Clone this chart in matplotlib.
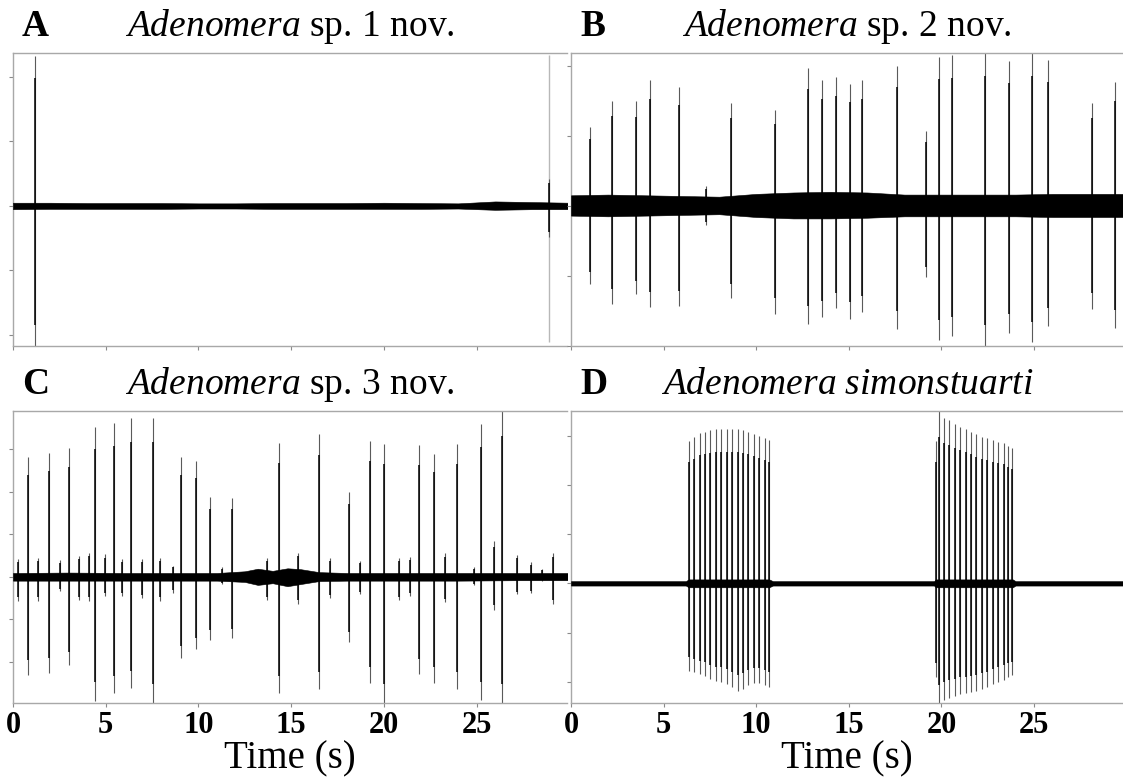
import numpy as np
import matplotlib
matplotlib.use("Agg")
import matplotlib.pyplot as plt

plt.rcParams['font.family'] = ['Liberation Serif', 'DejaVu Serif']
plt.rcParams['mathtext.fontset'] = 'custom'
plt.rcParams['mathtext.rm'] = 'Liberation Serif'
plt.rcParams['mathtext.it'] = 'Liberation Serif:italic'

# ---- data (amplitude in y-tick units, baseline = 0) ----
# A: Adenomera sp. 1 nov.
a_t = [1.18, 28.9]
a_up = [2.33, 0.42]
a_dn = [2.17, 0.48]
a_faint_t = [28.9]
a_faint_up = [2.34]
a_faint_dn = [2.11]
a_env_t = [0, 2, 4, 6, 8, 10, 12, 14, 16, 18, 20, 22, 24, 26, 28, 30]
a_env_up = [0.05, 0.05, 0.045, 0.045, 0.045, 0.04, 0.04, 0.045, 0.045, 0.045, 0.05, 0.045, 0.04, 0.07, 0.06, 0.05]
a_env_dn = [0.05, 0.045, 0.045, 0.045, 0.045, 0.04, 0.04, 0.045, 0.045, 0.045, 0.045, 0.045, 0.04, 0.06, 0.05, 0.05]

# B: Adenomera sp. 2 nov.
b_t = [1.03, 2.24, 3.50, 4.26, 5.84, 7.30, 8.66, 10.99, 12.80, 13.54, 14.32, 15.08,
       15.72, 17.61, 19.14, 19.88, 20.58, 22.37, 23.66, 24.90, 25.74, 28.11, 29.38]
b_up = [1.12, 1.50, 1.49, 1.79, 1.69, 0.28, 1.47, 1.37, 1.96, 1.79, 1.84, 1.74,
        1.80, 1.99, 1.07, 2.12, 2.15, 2.18, 2.06, 2.18, 2.08, 1.47, 1.76]
b_dn = [1.11, 1.40, 1.26, 1.45, 1.43, 0.27, 1.31, 1.55, 1.68, 1.59, 1.46, 1.61,
        1.51, 1.76, 1.02, 1.91, 1.86, 2.00, 1.81, 1.95, 1.71, 1.47, 1.75]
b_env_t = [0, 2, 4, 6, 8, 10, 12, 14, 16, 18, 20, 22, 24, 26, 28, 30]
b_env_up = [0.15, 0.16, 0.15, 0.14, 0.13, 0.17, 0.19, 0.20, 0.19, 0.16, 0.16, 0.16, 0.16, 0.17, 0.17, 0.17]
b_env_dn = [0.14, 0.15, 0.14, 0.13, 0.12, 0.16, 0.18, 0.18, 0.17, 0.15, 0.15, 0.15, 0.15, 0.16, 0.16, 0.16]

# C: Adenomera sp. 3 nov.
c_t = [0.81, 1.92, 3.00, 4.42, 5.46, 6.34, 7.56, 9.05, 9.88, 10.61, 11.80, 14.32,
       16.48, 18.09, 19.25, 20.03, 21.90, 22.70, 23.96, 25.24, 26.38,
       0.29, 1.37, 2.51, 3.54, 4.09, 4.97, 5.85, 6.93, 7.95, 8.60, 11.25, 13.71,
       15.38, 17.11, 18.72, 20.80, 21.43, 23.31, 24.84, 25.91, 27.16, 27.91, 28.50, 29.09]
c_up = [2.82, 2.91, 3.03, 3.52, 3.62, 3.72, 3.72, 2.82, 2.72, 1.88, 1.86, 3.13,
        3.36, 2.00, 3.19, 3.11, 3.09, 2.88, 3.11, 3.59, 3.88,
        0.41, 0.45, 0.39, 0.49, 0.57, 0.53, 0.41, 0.41, 0.45, 0.26, 0.22, 0.44,
        0.57, 0.44, 0.37, 0.44, 0.47, 0.55, 0.22, 0.83, 0.51, 0.34, 0.18, 0.55]
c_dn = [2.30, 2.25, 2.07, 2.91, 2.73, 2.61, 2.95, 1.91, 1.70, 1.48, 1.44, 2.73,
        2.63, 1.52, 2.48, 2.95, 2.28, 2.50, 2.62, 2.89, 2.95,
        0.56, 0.56, 0.33, 0.55, 0.56, 0.45, 0.45, 0.50, 0.56, 0.37, 0.17, 0.55,
        0.63, 0.50, 0.41, 0.55, 0.45, 0.60, 0.19, 0.78, 0.41, 0.38, 0.09, 0.64]
c_env_t = [0, 3, 6, 9, 11, 12.5, 13.2, 14, 14.8, 15.5, 16.5, 18, 21, 24, 27, 30]
c_env_up = [0.09, 0.10, 0.09, 0.09, 0.09, 0.13, 0.19, 0.14, 0.20, 0.18, 0.11, 0.09, 0.09, 0.09, 0.09, 0.09]
c_env_dn = [0.09, 0.09, 0.09, 0.09, 0.09, 0.12, 0.19, 0.15, 0.22, 0.17, 0.10, 0.09, 0.09, 0.09, 0.08, 0.08]

# D: Adenomera simonstuarti
d_t = [6.36, 6.65, 6.95, 7.24, 7.53, 7.82, 8.11, 8.40, 8.70, 8.99, 9.28, 9.57, 9.86, 10.16, 10.45, 10.70,
       19.71, 19.88, 20.14, 20.43, 20.72, 21.01, 21.30, 21.60, 21.89, 22.18, 22.47, 22.76, 23.05, 23.35, 23.60, 23.83]
d_up = [2.89, 2.97, 3.06, 3.08, 3.11, 3.13, 3.13, 3.14, 3.14, 3.13, 3.11, 3.08, 3.04, 2.99, 2.95, 2.91,
        2.89, 3.50, 3.35, 3.31, 3.23, 3.18, 3.13, 3.08, 3.03, 2.97, 2.95, 2.91, 2.88, 2.84, 2.79, 2.74]
d_dn = [1.77, 1.81, 1.85, 1.89, 1.94, 1.99, 2.01, 2.05, 2.11, 2.19, 2.14, 2.07, 2.03, 2.03, 2.07, 2.11,
        1.91, 2.43, 2.36, 2.32, 2.28, 2.24, 2.23, 2.21, 2.18, 2.14, 2.11, 2.05, 2.01, 1.96, 1.91, 1.87]
d_env_t = [0, 6.2, 6.35, 10.7, 10.9, 19.6, 19.7, 23.85, 24.0, 30]
d_env_up = [0.045, 0.045, 0.08, 0.08, 0.045, 0.045, 0.08, 0.08, 0.045, 0.045]
d_env_dn = [0.045, 0.045, 0.08, 0.08, 0.045, 0.045, 0.08, 0.08, 0.045, 0.045]

letters = ['A', 'B', 'C', 'D']
titles = [r'$\it{Adenomera}$ sp. 1 nov.', r'$\it{Adenomera}$ sp. 2 nov.',
          r'$\it{Adenomera}$ sp. 3 nov.', r'$\it{Adenomera\ simonstuarti}$']
ylims = [(-2.17, 2.37), (-2.0, 2.18), (-2.96, 3.89), (-2.43, 3.5)]
yticks = [[-2, -1, 0, 1, 2], [-2, -1, 0, 1, 2], [-2, -1, 0, 1, 2, 3], [-2, -1, 0, 1, 2, 3]]
xticks = [0, 5, 10, 15, 20, 25]

W, H = 1123, 783
fig = plt.figure(figsize=(W / 100, H / 100), dpi=100)

# axes boxes in pixels: left, top, right, bottom
boxes = [(13, 53, 567, 346), (571, 53, 1123, 346), (13, 411, 567, 703), (571, 411, 1123, 703)]
xmax = [29.87, 29.8, 29.87, 29.8]

panels = [
    (a_t, a_up, a_dn, a_env_t, a_env_up, a_env_dn),
    (b_t, b_up, b_dn, b_env_t, b_env_up, b_env_dn),
    (c_t, c_up, c_dn, c_env_t, c_env_up, c_env_dn),
    (d_t, d_up, d_dn, d_env_t, d_env_up, d_env_dn),
]

for i, (t, up, dn, et, eup, edn) in enumerate(panels):
    l, tp, r, b = boxes[i]
    ax = fig.add_axes([l / W, 1 - b / H, (r - l) / W, (b - tp) / H])

    et = np.array(et)
    ax.fill_between(et, -np.array(edn), np.array(eup), color='black', lw=0.4, zorder=3)

    t = np.array(t)
    up = np.array(up)
    dn = np.array(dn)
    ax.vlines(t, -dn, up, color='#5a5a5a', lw=0.8, zorder=2)
    ax.vlines(t, -dn * 0.85, up * 0.85, color='black', lw=1.1, zorder=3)

    if i == 0:
        ax.vlines(a_faint_t, -np.array(a_faint_dn), np.array(a_faint_up),
                  color='#b8b8b8', lw=1.0, zorder=1)

    ax.set_xlim(0, xmax[i])
    ax.set_ylim(*ylims[i])
    ax.set_xticks(xticks)
    ax.set_yticks(yticks[i])
    ax.set_yticklabels([])
    for s in ['top', 'bottom', 'left']:
        ax.spines[s].set_color('#a8a8a8')
        ax.spines[s].set_linewidth(1.0)
    ax.spines['right'].set_visible(False)
    ax.tick_params(axis='both', direction='out', length=3, width=0.8, color='#8a8a8a')

    if i < 2:
        ax.set_xticklabels([])
    else:
        ax.set_xticklabels([str(x) for x in xticks], fontsize=22, fontweight='bold')
        ax.tick_params(axis='x', pad=3)
        ax.set_xlabel('Time (s)', fontsize=28, labelpad=0)

    ax.set_title(titles[i], fontsize=27, pad=12)
    fig.text((l + 9) / W, 1 - (tp - 17) / H, letters[i], fontsize=27, fontweight='bold',
             va='baseline', ha='left')

fig.savefig('out.png', dpi=100)
